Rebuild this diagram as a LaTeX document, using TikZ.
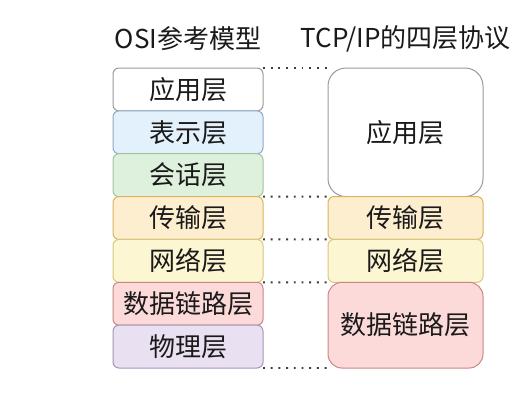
\documentclass[tikz,border=0pt]{standalone}
\usepackage{fontspec}
\setmainfont{Noto Sans CJK SC}
\usepackage{xcolor}
\usetikzlibrary{positioning}

\definecolor{appdraw}{HTML}{9A9A9A}
\definecolor{presfill}{HTML}{E2F1FB}
\definecolor{presdraw}{HTML}{8FA9C6}
\definecolor{sessfill}{HTML}{DEF1DC}
\definecolor{sessdraw}{HTML}{9FC59C}
\definecolor{transfill}{HTML}{FDEECF}
\definecolor{transdraw}{HTML}{DCB35C}
\definecolor{netfill}{HTML}{FDF6D3}
\definecolor{netdraw}{HTML}{D8C77C}
\definecolor{linkfill}{HTML}{FBDAD9}
\definecolor{linkdraw}{HTML}{C98786}
\definecolor{physfill}{HTML}{E9E0F1}
\definecolor{physdraw}{HTML}{A592B8}
\definecolor{inktext}{HTML}{1A1A1A}

\begin{document}
\begin{tikzpicture}[x=1pt,y=-1pt,node distance=0pt,
    layer/.style={draw,rounded corners=6pt,line width=1pt,outer sep=0pt,inner sep=0pt,
      minimum width=150pt,minimum height=42.86pt,text=inktext,font=\fontsize{26}{29}\selectfont},
    tcplayer/.style={layer,minimum width=155pt},
    title/.style={inner sep=0pt,text=inktext,font=\fontsize{26}{29}\selectfont},
    dots/.style={line width=1.9pt,dash pattern=on 1.9pt off 5.8pt,inktext!85}]
        \useasboundingbox[fill=white] (0,0) rectangle (521,400);
        % OSI column
        \node[layer,draw=appdraw,fill=white] (osiapp) at (188,89.43) {应用层};
        \node[layer,draw=presdraw,fill=presfill,below=of osiapp] (osipres) {表示层};
        \node[layer,draw=sessdraw,fill=sessfill,below=of osipres] (osisess) {会话层};
        \node[layer,draw=transdraw,fill=transfill,below=of osisess] (ositrans) {传输层};
        \node[layer,draw=netdraw,fill=netfill,below=of ositrans] (osinet) {网络层};
        \node[layer,draw=linkdraw,fill=linkfill,below=of osinet] (osilink) {数据链路层};
        \node[layer,draw=physdraw,fill=physfill,below=of osilink] (osiphys) {物理层};
        % TCP/IP column
        \node[tcplayer,draw=appdraw,fill=white,rounded corners=18pt,minimum height=128.58pt,
          right=65pt of osiapp.north east,anchor=north west] (tcpapp) {应用层};
        \node[tcplayer,draw=transdraw,fill=transfill,below=of tcpapp] (tcptrans) {传输层};
        \node[tcplayer,draw=netdraw,fill=netfill,below=of tcptrans] (tcpnet) {网络层};
        \node[tcplayer,draw=linkdraw,fill=linkfill,rounded corners=14pt,minimum height=85.72pt,
          below=of tcpnet] (tcplink) {数据链路层};
        % titles
        \node[title,above=17pt of osiapp] (osititle) {OSI参考模型};
        \node[title] (tcptitle) at (osititle.center -| tcpapp.center) {TCP/IP的四层协议};
        % dotted guides
        \draw[dots] (osiapp.north east) -- (tcpapp.north west);
        \draw[dots] (osisess.south east) -- (tcptrans.north west);
        \draw[dots] (ositrans.south east) -- (tcpnet.north west);
        \draw[dots] (osinet.south east) -- (tcplink.north west);
        \draw[dots] (osiphys.south east) -- (tcplink.south west);
\end{tikzpicture}
\end{document}
